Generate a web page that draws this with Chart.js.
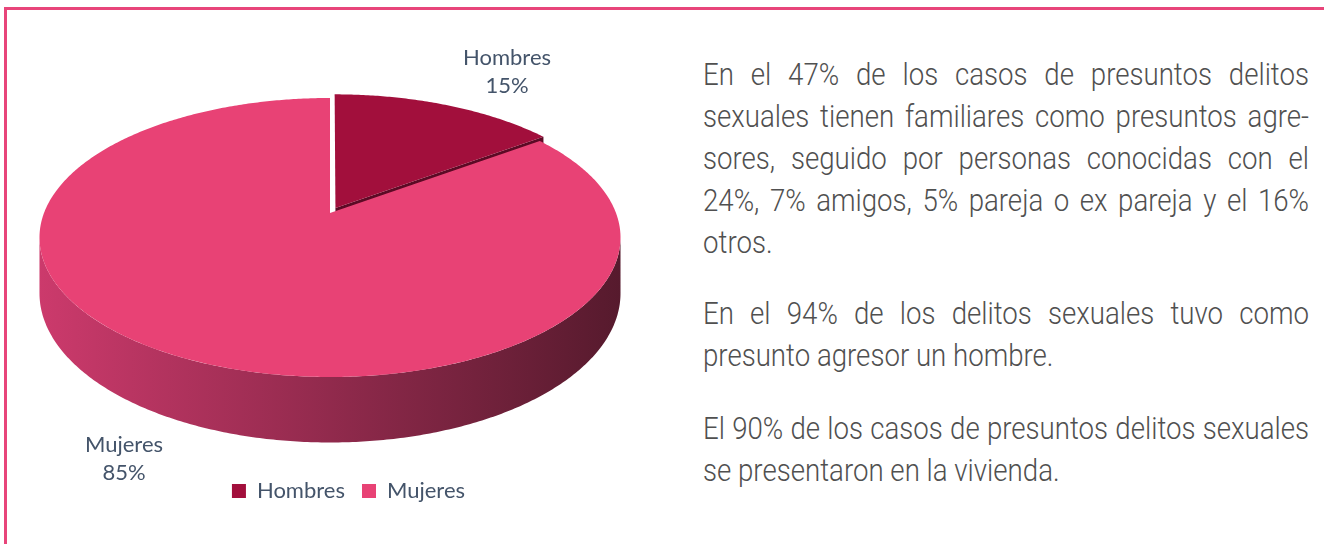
<!DOCTYPE html>
<html>
<head>
<meta charset="utf-8">
<script src="https://cdn.jsdelivr.net/npm/chart.js@4/dist/chart.umd.min.js"></script>
<style>
  html, body { margin: 0; padding: 0; background: #fff; }
  body { width: 1324px; height: 544px; position: relative; overflow: hidden; }
  #frame {
    position: absolute; left: 4px; top: 7px; width: 1400px; height: 600px;
    border: 3px solid #e8457a; box-sizing: border-box;
  }
  #chartBox { position: absolute; left: 0; top: 0; width: 697px; height: 512px; }
  #notes {
    position: absolute; left: 703px; top: 54px; width: 606px;
    color: #505050; font-family: Roboto, "Open Sans", sans-serif; font-weight: 300;
    font-size: 31px; line-height: 42px;
  }
  #notesInner { transform-origin: 0 0; }
  .para { margin-bottom: 29px; }
  .para + .para { margin-bottom: 31px; }
  .j { text-align: justify; text-align-last: justify; }
  .l { text-align: left; }
</style>
</head>
<body>
<div id="frame"></div>
<div id="chartBox"><canvas id="pieChart"></canvas></div>
<div id="notes">
  <div id="notesInner">
    <div class="para">
      <div class="j">En el 47% de los casos de presuntos delitos</div>
      <div class="j">sexuales tienen familiares como presuntos agre-</div>
      <div class="j">sores, seguido por personas conocidas con el</div>
      <div class="j">24%, 7% amigos, 5% pareja o ex pareja y el 16%</div>
      <div class="l">otros.</div>
    </div>
    <div class="para">
      <div class="j">En el 94% de los delitos sexuales tuvo como</div>
      <div class="l">presunto agresor un hombre.</div>
    </div>
    <div class="para">
      <div class="j">El 90% de los casos de presuntos delitos sexuales</div>
      <div class="l">se presentaron en la vivienda.</div>
    </div>
  </div>
</div>
<script>
const categories = ["Hombres", "Mujeres"];
const shares = [15, 85];
const sliceColors = ["#a20f3c", "#e84275"];
const cutColors = ["#5c0a25", "#7a1a38"];
const explodeOffsets = [9, 0];

// look of the tilted pie (pixels)
const PIE = { shiftX: -18.5, shiftY: -18.5, rx: 286, ry: 135.2, persp: 0.1756, depth: 54, wallLeft: "#cc3a6c", wallRight: "#561a2d" };
const LABEL_POS = [[507, 58], [124, 445]];
const TEXT_COLOR = "#44546a";

// squeeze the note text to a condensed look
(() => {
  const m = document.createElement("canvas").getContext("2d");
  m.font = "300 31px Roboto";
  const natural = m.measureText("El 90% de los casos de presuntos delitos sexuales").width;
  const s = Math.min(1, 602 / natural);
  const inner = document.getElementById("notesInner");
  inner.style.width = (606 / s) + "px";
  inner.style.transform = "scaleX(" + s + ")";
})();

const project = (c, theta, r, z, sh) => {
  const u = r * Math.sin(theta) + sh.u;
  const v = r * Math.cos(theta) + sh.v;
  const w = 1 + PIE.persp * v;
  return [c.x + PIE.rx * u / w, c.y + (-PIE.ry * v + PIE.depth * z) / w];
};

const rimPath = (ctx, c, a, b, z, sh, first) => {
  const n = Math.max(2, Math.ceil(Math.abs(b - a) / 0.01));
  for (let i = 0; i <= n; i++) {
    const t = a + (b - a) * i / n;
    const p = project(c, t, 1, z, sh);
    if (first && i === 0) ctx.moveTo(p[0], p[1]);
    else ctx.lineTo(p[0], p[1]);
  }
};

const pie3d = {
  id: "pie3d",
  beforeDatasetsDraw(chart) {
    const ctx = chart.ctx;
    const arcs = chart.getDatasetMeta(0).data;
    const c = { x: arcs[0].x + PIE.shiftX, y: arcs[0].y + PIE.shiftY };
    const scale = 1 / 213;
    const slices = arcs.map((arc, i) => {
      const a = arc.startAngle + Math.PI / 2;
      const b = arc.endAngle + Math.PI / 2;
      const mid = (a + b) / 2;
      const off = (arc.options.offset || 0) * scale;
      return { i, a, b, mid, sh: { u: off * Math.sin(mid), v: off * Math.cos(mid) } };
    });
    slices.sort((p, q) => Math.cos(q.mid) - Math.cos(p.mid));

    const visA = Math.acos(-PIE.persp);
    const visB = 2 * Math.PI - visA;
    const grad = ctx.createLinearGradient(c.x - PIE.rx * 1.02, 0, c.x + PIE.rx * 1.02, 0);
    grad.addColorStop(0, PIE.wallLeft);
    grad.addColorStop(1, PIE.wallRight);

    ctx.save();
    slices.forEach((s) => {
      // cut faces that turn toward the viewer
      [[s.a, s.a - Math.PI / 2], [s.b, s.b + Math.PI / 2]].forEach(([phi, nrm]) => {
        if (Math.cos(nrm) > -0.05) return;
        const p0 = project(c, 0, 0, 0, s.sh);
        const p1 = project(c, phi, 1, 0, s.sh);
        const p2 = project(c, phi, 1, 1, s.sh);
        const p3 = project(c, 0, 0, 1, s.sh);
        ctx.beginPath();
        ctx.moveTo(p0[0], p0[1]);
        ctx.lineTo(p1[0], p1[1]);
        ctx.lineTo(p2[0], p2[1]);
        ctx.lineTo(p3[0], p3[1]);
        ctx.closePath();
        ctx.fillStyle = cutColors[s.i];
        ctx.fill();
      });
      // outer wall
      const wa = Math.max(s.a, visA);
      const wb = Math.min(s.b, visB);
      if (wb > wa) {
        ctx.beginPath();
        rimPath(ctx, c, wa, wb, 0, s.sh, true);
        rimPath(ctx, c, wb, wa, 1, s.sh, false);
        ctx.closePath();
        ctx.fillStyle = grad;
        ctx.fill();
      }
      // top face
      const apex = project(c, 0, 0, 0, s.sh);
      ctx.beginPath();
      ctx.moveTo(apex[0], apex[1]);
      rimPath(ctx, c, s.a, s.b, 0, s.sh, false);
      ctx.closePath();
      ctx.fillStyle = sliceColors[s.i];
      ctx.fill();
    });
    ctx.restore();
    return false;
  },
  afterDraw(chart) {
    const ctx = chart.ctx;
    const data = chart.data.datasets[0].data;
    const total = data.reduce((p, q) => p + q, 0);
    ctx.save();
    ctx.fillStyle = TEXT_COLOR;
    ctx.font = "22px Lato";
    ctx.textAlign = "center";
    ctx.textBaseline = "middle";
    chart.data.labels.forEach((lab, i) => {
      const [x, y] = LABEL_POS[i];
      ctx.fillText(lab, x, y);
      ctx.fillText(Math.round(data[i] / total * 100) + "%", x, y + 28);
    });
    ctx.restore();
  },
};

const ctx = document.getElementById("pieChart").getContext("2d");
new Chart(ctx, {
  type: "pie",
  data: {
    labels: categories,
    datasets: [{
      data: shares,
      backgroundColor: sliceColors,
      borderWidth: 0,
      offset: explodeOffsets,
    }],
  },
  options: {
    responsive: true,
    maintainAspectRatio: false,
    animation: false,
    plugins: {
      legend: {
        position: "bottom",
        labels: {
          boxWidth: 14,
          boxHeight: 14,
          padding: 17,
          color: TEXT_COLOR,
          font: { family: "Lato", size: 22 },
        },
      },
      tooltip: { enabled: false },
    },
  },
  plugins: [pie3d],
});
</script>
</body>
</html>
